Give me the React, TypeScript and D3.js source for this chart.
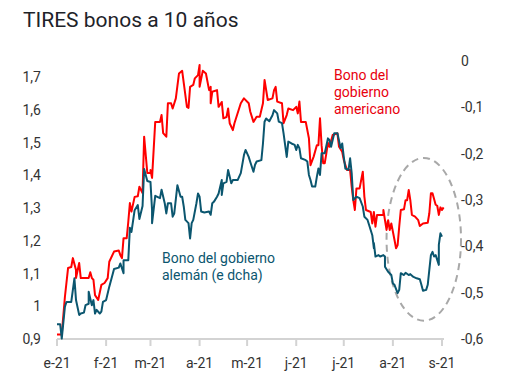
import { useEffect, useRef } from "react";
import * as d3 from "d3";

// [days since 1 Jan 2021, yield %]
const usYield: [number, number][] = [
  [0, 0.914], [3, 0.914], [5, 1.029], [7, 1.117], [9, 1.12], [10, 1.147], [12, 1.111], [12, 1.086],
  [14, 1.132], [15, 1.086], [20, 1.086], [21, 1.104], [22, 1.086], [23, 1.081], [24, 1.034], [26, 1.019],
  [28, 1.065], [30, 1.071], [32, 1.086], [33, 1.136], [36, 1.167], [39, 1.17], [40, 1.156], [41, 1.147],
  [42, 1.208], [44, 1.208], [45, 1.258], [46, 1.315], [47, 1.289], [49, 1.334], [51, 1.336], [52, 1.365],
  [54, 1.346], [55, 1.518], [57, 1.407], [59, 1.407], [59, 1.416], [60, 1.392], [62, 1.563], [65, 1.563],
  [66, 1.584], [67, 1.529], [69, 1.518], [70, 1.62], [72, 1.62], [73, 1.604], [75, 1.635], [77, 1.711],
  [79, 1.719], [80, 1.682], [82, 1.609], [83, 1.606], [84, 1.67], [86, 1.676], [87, 1.696], [89, 1.706],
  [90, 1.737], [90, 1.67], [92, 1.719], [94, 1.711], [96, 1.66], [97, 1.67], [97, 1.62], [98, 1.655],
  [101, 1.66], [102, 1.609], [104, 1.624], [105, 1.574], [107, 1.578], [108, 1.604], [109, 1.559],
  [111, 1.538], [112, 1.559], [116, 1.62], [118, 1.635], [121, 1.62], [122, 1.594], [124, 1.563],
  [126, 1.579], [128, 1.579], [130, 1.62], [131, 1.691], [133, 1.63], [136, 1.635], [137, 1.66],
  [138, 1.67], [139, 1.625], [142, 1.62], [143, 1.559], [145, 1.584], [146, 1.604], [149, 1.599],
  [151, 1.609], [152, 1.589], [153, 1.625], [154, 1.563], [157, 1.563], [159, 1.513], [160, 1.431],
  [162, 1.457], [164, 1.492], [165, 1.492], [166, 1.574], [167, 1.492], [168, 1.437], [169, 1.437],
  [170, 1.467], [171, 1.499], [172, 1.487], [174, 1.523], [177, 1.528], [178, 1.487], [180, 1.472],
  [181, 1.447], [183, 1.416], [185, 1.416], [186, 1.365], [187, 1.324], [188, 1.294], [189, 1.36],
  [191, 1.36], [193, 1.411], [194, 1.335], [195, 1.294], [198, 1.288], [199, 1.253], [200, 1.288],
  [201, 1.243], [202, 1.279], [206, 1.279], [206, 1.294], [207, 1.263], [208, 1.233], [209, 1.263],
  [210, 1.233], [211, 1.253], [213, 1.203], [214, 1.177], [215, 1.187], [216, 1.243], [217, 1.294],
  [219, 1.296], [220, 1.324], [221, 1.324], [222, 1.355], [223, 1.324], [224, 1.279], [226, 1.274],
  [228, 1.263], [229, 1.245], [231, 1.253], [234, 1.255], [235, 1.284], [236, 1.345], [237, 1.345],
  [239, 1.31], [240, 1.307], [241, 1.279], [242, 1.302], [243, 1.294], [244, 1.302],
];

const deYield: [number, number][] = [
  [0, -0.568], [2, -0.568], [3, -0.599], [5, -0.53], [6, -0.52], [9, -0.52], [11, -0.469], [12, -0.516],
  [14, -0.548], [15, -0.545], [17, -0.543], [18, -0.527], [20, -0.524], [20, -0.498], [22, -0.527],
  [23, -0.516], [24, -0.545], [25, -0.537], [27, -0.545], [28, -0.541], [29, -0.52], [31, -0.516],
  [33, -0.487], [35, -0.462], [36, -0.449], [39, -0.446], [40, -0.437], [42, -0.458], [42, -0.43],
  [45, -0.43], [46, -0.36], [47, -0.369], [49, -0.322], [51, -0.311], [52, -0.341], [54, -0.313],
  [55, -0.233], [57, -0.259], [59, -0.261], [60, -0.322], [60, -0.35], [62, -0.291], [65, -0.296],
  [66, -0.278], [68, -0.307], [69, -0.329], [70, -0.307], [72, -0.307], [73, -0.336], [74, -0.329],
  [76, -0.268], [78, -0.293], [79, -0.293], [80, -0.314], [81, -0.343], [83, -0.35], [84, -0.383],
  [85, -0.35], [86, -0.343], [88, -0.307], [89, -0.286], [90, -0.293], [91, -0.325], [93, -0.327],
  [96, -0.325], [97, -0.332], [98, -0.307], [99, -0.304], [101, -0.293], [102, -0.286], [104, -0.257],
  [104, -0.289], [105, -0.264], [107, -0.261], [108, -0.235], [110, -0.264], [111, -0.257],
  [114, -0.257], [116, -0.242], [118, -0.203], [119, -0.192], [121, -0.207], [122, -0.218],
  [124, -0.239], [125, -0.224], [126, -0.217], [129, -0.214], [130, -0.178], [131, -0.131],
  [132, -0.124], [134, -0.13], [136, -0.117], [137, -0.106], [139, -0.113], [140, -0.131],
  [142, -0.134], [143, -0.156], [145, -0.207], [146, -0.174], [148, -0.178], [150, -0.181],
  [151, -0.192], [152, -0.181], [153, -0.188], [154, -0.21], [157, -0.214], [158, -0.217],
  [159, -0.246], [160, -0.257], [161, -0.271], [163, -0.271], [164, -0.25], [165, -0.232],
  [166, -0.246], [167, -0.199], [169, -0.199], [171, -0.167], [172, -0.171], [173, -0.185],
  [175, -0.156], [177, -0.156], [179, -0.188], [180, -0.178], [181, -0.207], [182, -0.232],
  [184, -0.235], [185, -0.21], [186, -0.242], [187, -0.3], [189, -0.293], [191, -0.296],
  [193, -0.314], [194, -0.336], [196, -0.343], [197, -0.354], [199, -0.376], [200, -0.404],
  [200, -0.393], [201, -0.422], [203, -0.419], [204, -0.422], [206, -0.419], [207, -0.422],
  [207, -0.444], [209, -0.455], [211, -0.462], [212, -0.48], [213, -0.483], [215, -0.501],
  [216, -0.494], [217, -0.458], [219, -0.462], [220, -0.457], [222, -0.462], [223, -0.46],
  [225, -0.466], [227, -0.469], [229, -0.471], [230, -0.483], [231, -0.496], [233, -0.494],
  [234, -0.483], [235, -0.451], [236, -0.419], [237, -0.412], [238, -0.422], [239, -0.419],
  [241, -0.44], [241, -0.397], [242, -0.372], [243, -0.379],
];

const leftTicks = [0.9, 1, 1.1, 1.2, 1.3, 1.4, 1.5, 1.6, 1.7];
const rightTicks = [0, -0.1, -0.2, -0.3, -0.4, -0.5, -0.6];
const monthLabels = ["e-21", "f-21", "m-21", "a-21", "m-21", "j-21", "j-21", "a-21", "s-21"];
const usLabel = ["Bono del", "gobierno", "americano"];
const deLabel = ["Bono del gobierno", "alemán (e dcha)"];
// dashed ellipse around the last weeks (dates + left-axis values)
const highlight = { from: "2021-07-28", to: "2021-09-13", low: 0.956, high: 1.453 };

const RED = "#ff0000";
const TEAL = "#0b566f";
const FONT = "Roboto, 'Noto Sans', sans-serif";

export default function App() {
  const ref = useRef<SVGSVGElement>(null);

  useEffect(() => {
    const width = 514;
    const height = 385;
    const margin = { top: 61, right: 72, bottom: 46, left: 57 };
    const svg = d3.select(ref.current);
    svg.selectAll("*").remove();

    const start = new Date(2021, 0, 1);
    const day = (n: number) => d3.timeDay.offset(start, n);
    const parse = d3.timeParse("%Y-%m-%d");

    const x = d3
      .scaleTime()
      .domain([start, new Date(2021, 8, 1)])
      .range([margin.left, width - margin.right]);
    const yL = d3
      .scaleLinear()
      .domain([0.9, 1.749])
      .range([height - margin.bottom, margin.top]);
    const yR = d3
      .scaleLinear()
      .domain([-0.6, 0])
      .range([height - margin.bottom, margin.top]);

    const es = d3.formatLocale({
      decimal: ",",
      thousands: ".",
      grouping: [3],
      currency: ["", " €"],
      minus: "-",
    });
    const fmt = es.format(".1~f");

    svg
      .append("text")
      .attr("x", 23)
      .attr("y", 27)
      .attr("font-family", FONT)
      .attr("font-size", 21)
      .attr("fill", "#1e2329")
      .text("TIRES bonos a 10 años");

    // x axis
    const base = height - margin.bottom;
    const g = svg.append("g");
    g.append("line")
      .attr("x1", margin.left)
      .attr("x2", width - margin.right + 2)
      .attr("y1", base)
      .attr("y2", base)
      .attr("stroke", "#d3d3d3")
      .attr("stroke-width", 2);
    const months = d3.timeMonth.range(start, new Date(2021, 8, 2));
    g.selectAll("line.tick")
      .data(months)
      .enter()
      .append("line")
      .attr("x1", (d) => x(d))
      .attr("x2", (d) => x(d))
      .attr("y1", base)
      .attr("y2", base + 7)
      .attr("stroke", "#d3d3d3")
      .attr("stroke-width", 2);
    g.selectAll("text")
      .data(months)
      .enter()
      .append("text")
      .attr("x", (d) => x(d))
      .attr("y", base + 29)
      .attr("text-anchor", "middle")
      .attr("font-family", FONT)
      .attr("font-size", 14)
      .attr("fill", "#333")
      .text((d, i) => monthLabels[i]);

    svg
      .append("g")
      .selectAll("text")
      .data(leftTicks)
      .enter()
      .append("text")
      .attr("x", 41)
      .attr("y", (d) => yL(d))
      .attr("dy", "0.36em")
      .attr("text-anchor", "end")
      .attr("font-family", FONT)
      .attr("font-size", 14)
      .attr("fill", "#333")
      .text((d) => fmt(d));

    svg
      .append("g")
      .selectAll("text")
      .data(rightTicks)
      .enter()
      .append("text")
      .attr("x", 461)
      .attr("y", (d) => yR(d))
      .attr("dy", "0.36em")
      .attr("font-family", FONT)
      .attr("font-size", 14)
      .attr("fill", "#333")
      .text((d) => fmt(d));

    // highlight ellipse
    const x0 = x(parse(highlight.from)!);
    const x1 = x(parse(highlight.to)!);
    svg
      .append("ellipse")
      .attr("cx", (x0 + x1) / 2)
      .attr("cy", (yL(highlight.low) + yL(highlight.high)) / 2)
      .attr("rx", (x1 - x0) / 2)
      .attr("ry", (yL(highlight.low) - yL(highlight.high)) / 2)
      .attr("fill", "none")
      .attr("stroke", "#a8a8a8")
      .attr("stroke-width", 2)
      .attr("stroke-dasharray", "7 5");

    const lineL = d3
      .line<[number, number]>()
      .x((d) => x(day(d[0])))
      .y((d) => yL(d[1]));
    const lineR = d3
      .line<[number, number]>()
      .x((d) => x(day(d[0])))
      .y((d) => yR(d[1]));

    svg
      .append("path")
      .datum(usYield)
      .attr("d", lineL)
      .attr("fill", "none")
      .attr("stroke", RED)
      .attr("stroke-width", 2)
      .attr("stroke-linejoin", "round");
    svg
      .append("path")
      .datum(deYield)
      .attr("d", lineR)
      .attr("fill", "none")
      .attr("stroke", TEAL)
      .attr("stroke-width", 2)
      .attr("stroke-linejoin", "round");

    svg
      .append("text")
      .attr("font-family", FONT)
      .attr("font-size", 14)
      .attr("fill", "#e8000e")
      .selectAll("tspan")
      .data(usLabel)
      .enter()
      .append("tspan")
      .attr("x", 334)
      .attr("y", (d, i) => 80 + i * 17)
      .text((d) => d);

    svg
      .append("text")
      .attr("font-family", FONT)
      .attr("font-size", 14)
      .attr("fill", TEAL)
      .selectAll("tspan")
      .data(deLabel)
      .enter()
      .append("tspan")
      .attr("x", 162)
      .attr("y", (d, i) => 263 + i * 17)
      .text((d) => d);
  }, []);

  return (
    <svg
      ref={ref}
      width={514}
      height={385}
      style={{ position: "absolute", left: 0, top: 0, background: "#fff" }}
    />
  );
}
